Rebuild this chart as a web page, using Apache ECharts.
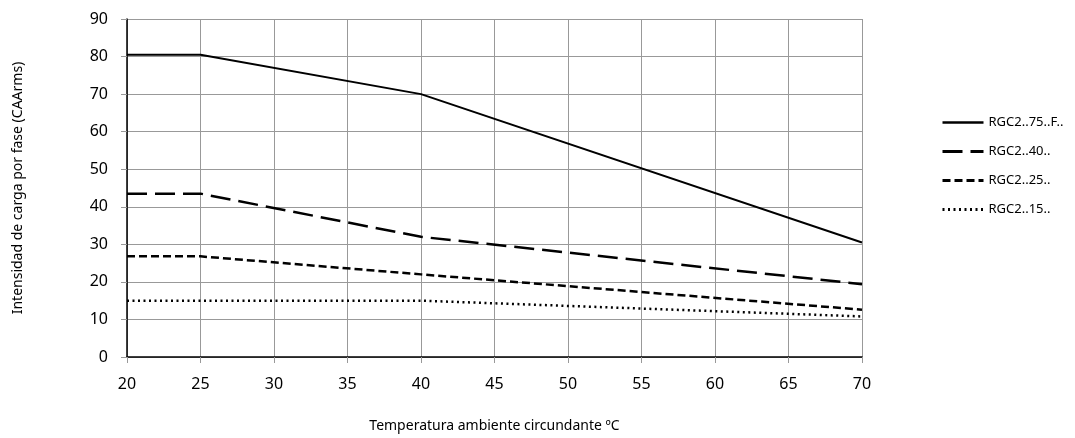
<!DOCTYPE html>
<html><head><meta charset="utf-8">
<script src="https://cdn.jsdelivr.net/npm/echarts@6/dist/echarts.min.js"></script>
<style>html,body{margin:0;padding:0;background:#fff}#c{width:1075px;height:438px}</style>
</head><body><div id="c"></div>
<script>
const xTicks = [20, 25, 30, 35, 40, 45, 50, 55, 60, 65, 70];
const temps = [20, 25, 40, 70];
const s75 = [80.5, 80.5, 70, 30.5];
const s40 = [43.5, 43.5, 32, 19.4];
const s25 = [26.8, 26.8, 22, 12.6];
const s15 = [15, 15, 15, 10.8];
const names = ['RGC2..75..F..', 'RGC2..40..', 'RGC2..25..', 'RGC2..15..'];
const font = 'Noto Sans';
const styles = [
  { type: 'solid', width: 2 },
  { type: [20, 8], width: 2.5 },
  { type: [8, 4], width: 2.5 },
  { type: [2, 3.5], width: 2.5 }
];
function mk(i, vals) {
  return {
    name: names[i], type: 'line', symbol: 'none', silent: true,
    data: temps.map((t, k) => [t, vals[k]]),
    itemStyle: { color: '#000' },
    lineStyle: { color: '#000', width: styles[i].width, type: styles[i].type }
  };
}
const chart = echarts.init(document.getElementById('c'));
chart.setOption({
  animation: false,
  grid: { left: 127, right: 213, top: 19, bottom: 78 },
  legend: {
    orient: 'vertical', left: 936, top: 111, itemGap: 16, itemWidth: 41, itemHeight: 14,
    itemStyle: { opacity: 0 },
    textStyle: { fontFamily: font, fontSize: 13, color: '#000' },
    data: names.map((n, i) => ({
      name: n,
      lineStyle: { color: '#000', width: styles[i].width + 0.5, type: styles[i].type }
    }))
  },
  xAxis: {
    type: 'value', min: 20, max: 70, interval: 5,
    name: 'Temperatura ambiente circundante ºC', nameLocation: 'middle', nameGap: 62,
    nameTextStyle: { fontFamily: font, fontSize: 14, color: '#000' },
    axisLine: { show: true, onZero: false, lineStyle: { color: '#000', width: 1.5 } },
    axisTick: { show: true, length: 6, lineStyle: { color: '#999' } },
    axisLabel: { fontFamily: font, fontSize: 16, color: '#000', margin: 19 },
    splitLine: { show: true, lineStyle: { color: '#999', width: 1 } }
  },
  yAxis: {
    type: 'value', min: 0, max: 90, interval: 10,
    name: 'Intensidad de carga por fase (CAArms)', nameLocation: 'middle', nameGap: 102,
    nameTextStyle: { fontFamily: font, fontSize: 14, color: '#000' },
    axisLine: { show: true, lineStyle: { color: '#000', width: 1.5 } },
    axisTick: { show: true, length: 6, lineStyle: { color: '#999' } },
    axisLabel: { fontFamily: font, fontSize: 16, color: '#000', margin: 19 },
    splitLine: { show: true, lineStyle: { color: '#999', width: 1 } }
  },
  series: [
    mk(0, s75),
    mk(1, s40),
    mk(2, s25),
    mk(3, s15)
  ]
});
</script></body></html>
